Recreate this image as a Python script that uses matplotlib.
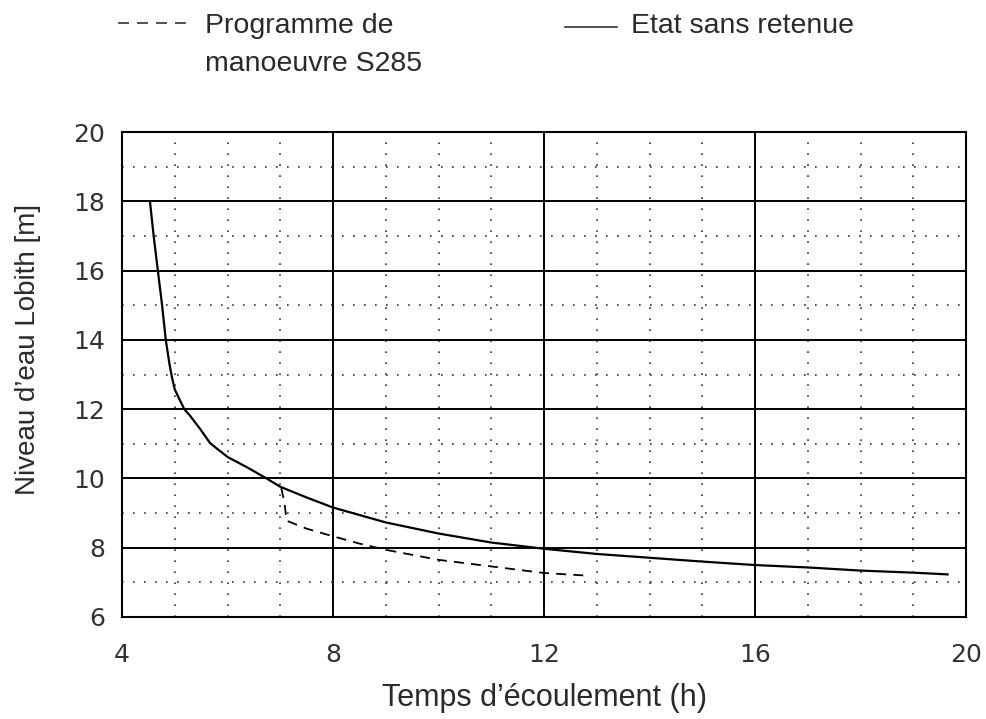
import numpy as np
import matplotlib.pyplot as plt
from matplotlib.lines import Line2D

plt.rcParams['font.family'] = ['Liberation Sans', 'DejaVu Sans']

# Etat sans retenue (solid curve)
x_etat = [4.53, 4.60, 4.68, 4.76, 4.83, 4.90, 4.95, 5.0, 5.1, 5.18, 5.29, 5.48,
          5.67, 5.8, 6.0, 6.36, 6.74, 7.0, 7.5, 8.0, 9.0, 10.0, 11.0, 12.0,
          13.0, 14.0, 15.0, 16.0, 17.0, 18.0, 19.0, 19.65]
y_etat = [18.0, 17.0, 16.0, 15.0, 14.0, 13.3, 12.9, 12.57, 12.25, 12.0, 11.81, 11.43,
          11.02, 10.86, 10.62, 10.33, 10.0, 9.76, 9.45, 9.16, 8.73, 8.41, 8.15, 7.97,
          7.82, 7.71, 7.6, 7.5, 7.43, 7.34, 7.28, 7.23]

# Programme de manoeuvre S285 (dashed curve)
x_prog = [7.02, 7.08, 7.12, 7.5, 8.0, 8.5, 9.0, 10.0, 11.0, 12.0, 12.75]
y_prog = [9.72, 9.3, 8.78, 8.55, 8.33, 8.12, 7.94, 7.65, 7.46, 7.27, 7.2]

x_ticks = [4, 8, 12, 16, 20]
y_ticks = [6, 8, 10, 12, 14, 16, 18, 20]

txt_color = "#2a2a2a"

fig = plt.figure(figsize=(9.86, 7.19), dpi=100)
ax = fig.add_axes([122 / 986, 1 - 617 / 719, (966 - 122) / 986, (617 - 132) / 719])

ax.set_xlim(4, 20)
ax.set_ylim(6, 20)

# Dotted minor grid, solid major grid
ax.set_xticks(x_ticks)
ax.set_yticks(y_ticks)
ax.set_xticks(np.arange(4, 21, 1), minor=True)
ax.set_yticks(np.arange(6, 21, 1), minor=True)
ax.grid(which="minor", color="#333333", linestyle=(0, (1, 5.6)), linewidth=1.2)
ax.grid(which="major", color="black", linestyle="-", linewidth=1.4)
ax.set_axisbelow(True)

ax.plot(x_etat, y_etat, color="black", linewidth=1.6, zorder=3)
ax.plot(x_prog, y_prog, color="black", linewidth=1.3, linestyle=(0, (5.5, 4)), zorder=3)

for spine in ax.spines.values():
    spine.set_linewidth(1.5)
    spine.set_color("black")

ax.tick_params(which="both", length=0)
ax.tick_params(axis="x", pad=19, labelsize=18, labelcolor="#333333")
ax.tick_params(axis="y", pad=12, labelsize=18, labelcolor="#333333")
for lab in ax.get_xticklabels() + ax.get_yticklabels():
    lab.set_family("DejaVu Sans")

fig.text(545 / 986, 1 - 706 / 719, "Temps d\u2019écoulement (h)", ha="center", va="baseline",
         fontsize=22, color=txt_color)
fig.text(28 / 986, 1 - 349 / 719, "Niveau d\u2019eau Lobith [m]", ha="center", va="center",
         rotation=90, fontsize=20, color=txt_color)

# Legend drawn by hand at the top
fig.add_artist(Line2D([118 / 986, 193 / 986], [1 - 23 / 719, 1 - 23 / 719], color="#333333",
                      linewidth=1.2, linestyle=(0, (6.6, 4.8))))
fig.text(205 / 986, 1 - 33 / 719, "Programme de", ha="left", va="baseline", fontsize=20.5, color=txt_color)
fig.text(205 / 986, 1 - 71 / 719, "manoeuvre S285", ha="left", va="baseline", fontsize=20.5, color=txt_color)
fig.add_artist(Line2D([565 / 986, 617 / 986], [1 - 27 / 719, 1 - 27 / 719], color="#333333",
                      linewidth=1.2))
fig.text(631 / 986, 1 - 33 / 719, "Etat sans retenue", ha="left", va="baseline", fontsize=20.5, color=txt_color)

plt.savefig("out.png", dpi=100)
